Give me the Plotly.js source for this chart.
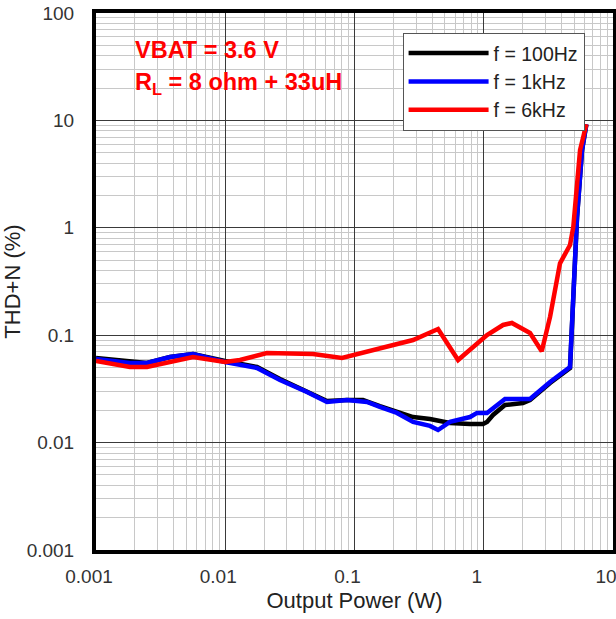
<!DOCTYPE html>
<html>
<head>
<meta charset="utf-8">
<script src="https://cdn.plot.ly/plotly-3.0.1.min.js"></script>
<style>html,body{margin:0;padding:0;background:#fff;}#chart{width:616px;height:619px;}</style>
</head>
<body>
<div id="chart"></div>
<script>
// Output power (W) and THD+N (%)
const power100Hz = [0.001, 0.00183, 0.00248, 0.00374, 0.00563, 0.00995, 0.0176, 0.0265, 0.0429, 0.0612, 0.0875, 0.1164, 0.157, 0.213, 0.284, 0.384, 0.548, 0.783, 0.987, 1.06, 1.18, 1.46, 2.01, 2.28, 3.26, 4.65, 5.27, 5.76, 6.22];
const thd100Hz   = [0.0614, 0.0563, 0.0551, 0.0627, 0.0668, 0.0575, 0.0506, 0.0391, 0.0302, 0.0244, 0.0249, 0.0249, 0.0219, 0.0193, 0.0173, 0.0166, 0.0152, 0.0149, 0.0149, 0.0156, 0.0181, 0.0224, 0.0234, 0.0249, 0.0359, 0.0495, 1.26, 5.30, 9.2];

const power1kHz = [0.001, 0.00183, 0.00248, 0.00374, 0.00563, 0.00995, 0.0176, 0.0265, 0.0429, 0.0612, 0.0875, 0.125, 0.157, 0.213, 0.284, 0.384, 0.443, 0.548, 0.783, 0.887, 1.06, 1.46, 2.28, 3.26, 4.65, 5.27, 5.76, 6.22];
const thd1kHz   = [0.0600, 0.0551, 0.0551, 0.0627, 0.0668, 0.0563, 0.0495, 0.0383, 0.0296, 0.0239, 0.0249, 0.0239, 0.0215, 0.0189, 0.0156, 0.0143, 0.0131, 0.0156, 0.0173, 0.0189, 0.0189, 0.0255, 0.0255, 0.0367, 0.0506, 1.26, 5.30, 9.2];

const power6kHz = [0.001, 0.00183, 0.00248, 0.00374, 0.00563, 0.00995, 0.0130, 0.0210, 0.0478, 0.0800, 0.157, 0.284, 0.443, 0.633, 1.06, 1.41, 1.65, 2.28, 2.81, 3.26, 3.89, 4.65, 4.93, 5.56, 6.22];
const thd6kHz   = [0.0575, 0.0506, 0.0506, 0.0563, 0.0627, 0.0563, 0.0587, 0.0683, 0.0668, 0.0614, 0.0760, 0.0902, 0.1142, 0.0587, 0.1004, 0.1245, 0.1300, 0.1048, 0.0710, 0.1486, 0.467, 0.692, 1.02, 5.30, 9.2];

const seriesNames = ['f = 100Hz', 'f = 1kHz', 'f = 6kHz'];
const seriesColors = ['#000000', '#0000ff', '#ff0000'];

const xTickVals = [0.001, 0.01, 0.1, 1, 10];
const xTickText = ['0.001', '0.01', '0.1', '1', '10'];
const yTickVals = [0.001, 0.01, 0.1, 1, 10, 100];
const yTickText = ['0.001', '0.01', '0.1', '1', '10', '100'];

function minorVals(lo, hi) {
  const v = [];
  for (let e = lo; e < hi; e++) for (let m = 2; m <= 9; m++) v.push(m * Math.pow(10, e));
  return v;
}

const font = 'Liberation Sans, Arial, sans-serif';
const lineW = 4.5;

const traces = [
  {x: power100Hz, y: thd100Hz, name: seriesNames[0], line: {color: seriesColors[0], width: lineW}},
  {x: power1kHz, y: thd1kHz, name: seriesNames[1], line: {color: seriesColors[1], width: lineW}},
  {x: power6kHz, y: thd6kHz, name: seriesNames[2], line: {color: seriesColors[2], width: lineW}}
].map(t => Object.assign({type: 'scatter', mode: 'lines'}, t));

const axisCommon = {
  type: 'log',
  showline: true, linecolor: '#000', linewidth: 4, mirror: true,
  showgrid: true, gridcolor: '#3a3a3a', gridwidth: 1,
  zeroline: false,
  ticks: '',
  tickmode: 'array',
  ticklabeloverflow: 'allow',
  tickfont: {family: font, size: 19, color: '#333'},
};

const layout = {
  width: 616, height: 619,
  margin: {l: 96, r: 3, t: 13, b: 69},
  paper_bgcolor: '#fff', plot_bgcolor: '#fff',
  showlegend: true,
  legend: {
    x: 0.593, y: 0.963, xanchor: 'left', yanchor: 'top',
    bgcolor: '#fff', bordercolor: '#555', borderwidth: 1,
    font: {family: font, size: 19.5, color: '#222'},
    itemwidth: 80, tracegroupgap: 0
  },
  xaxis: Object.assign({}, axisCommon, {
    range: [-3, 1],
    tickvals: xTickVals, ticktext: xTickText,
    ticklabelshift: -7, ticklabelstandoff: 6,
    minor: {tickmode: 'array', tickvals: minorVals(-3, 1), showgrid: true, gridcolor: '#c8c8c8', gridwidth: 1, ticks: ''},
    title: {text: 'Output Power (W)', font: {family: font, size: 22, color: '#222'}, standoff: 8}
  }),
  yaxis: Object.assign({}, axisCommon, {
    range: [-3, 2],
    tickvals: yTickVals, ticktext: yTickText,
    ticklabelstandoff: 14,
    minor: {tickmode: 'array', tickvals: minorVals(-3, 2), showgrid: true, gridcolor: '#c8c8c8', gridwidth: 1, ticks: ''},
    title: {text: 'THD+N (%)', font: {family: font, size: 22, color: '#222'}, standoff: 4}
  }),
  annotations: [
    {xref: 'paper', yref: 'paper', x: 0.0715, y: 0.931, xanchor: 'left', yanchor: 'middle', showarrow: false,
     text: '<b>VBAT = 3.6 V</b>', font: {family: font, size: 23.5, color: '#ff0000'}},
    {xref: 'paper', yref: 'paper', x: 0.0715, y: 0.868, xanchor: 'left', yanchor: 'middle', showarrow: false,
     text: '<b>R<sub>L</sub> = 8 ohm + 33uH</b>', font: {family: font, size: 23.5, color: '#ff0000'}}
  ]
};

Plotly.newPlot('chart', traces, layout, {displayModeBar: false, staticPlot: true});
</script>
</body>
</html>
